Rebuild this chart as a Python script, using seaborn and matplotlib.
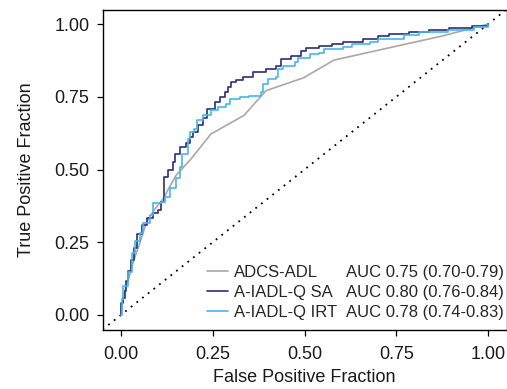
import numpy as np
import pandas as pd
import seaborn as sns
import matplotlib.pyplot as plt
from matplotlib.lines import Line2D

# ROC curve vertices (FPR, TPR)
adcs_fpr = [0, 0.005, 0.02, 0.033, 0.052, 0.07, 0.09, 0.115, 0.15, 0.19, 0.245,
            0.335, 0.395, 0.497, 0.58, 0.875, 1.0]
adcs_tpr = [0, 0.06, 0.12, 0.18, 0.25, 0.32, 0.36, 0.40, 0.48, 0.535, 0.622,
            0.686, 0.771, 0.815, 0.876, 0.959, 1.0]

sa_fpr = [0, 0.0, 0.005, 0.011, 0.015, 0.02, 0.028, 0.035, 0.043, 0.056, 0.07,
          0.088, 0.10, 0.11, 0.118, 0.128, 0.142, 0.147, 0.16, 0.178, 0.1875,
          0.195, 0.21, 0.223, 0.233, 0.255, 0.27, 0.283, 0.291, 0.30, 0.314,
          0.332, 0.36, 0.396, 0.423, 0.436, 0.464, 0.49, 0.505, 0.54, 0.576,
          0.604, 0.658, 0.70, 0.731, 0.785, 0.84, 0.894, 0.957, 1.0]
sa_tpr = [0, 0.04, 0.06, 0.083, 0.117, 0.15, 0.19, 0.23, 0.28, 0.31, 0.335,
          0.35, 0.36, 0.39, 0.475, 0.50, 0.527, 0.555, 0.578, 0.59, 0.612,
          0.63, 0.652, 0.676, 0.709, 0.731, 0.749, 0.766, 0.783, 0.80, 0.806,
          0.817, 0.834, 0.846, 0.857, 0.88, 0.891, 0.908, 0.919, 0.925, 0.93,
          0.939, 0.95, 0.959, 0.967, 0.971, 0.978, 0.985, 0.992, 1.0]

irt_fpr = [0, 0.002, 0.006, 0.02, 0.029, 0.038, 0.052, 0.06, 0.079, 0.088, 0.11,
           0.12, 0.133, 0.151, 0.16, 0.165, 0.183, 0.1875, 0.20, 0.206, 0.224,
           0.246, 0.264, 0.287, 0.296, 0.323, 0.35, 0.382, 0.387, 0.40, 0.423,
           0.427, 0.44, 0.473, 0.482, 0.514, 0.54, 0.554, 0.604, 0.63, 0.677,
           0.70, 0.772, 0.813, 0.89, 0.962, 1.0]
irt_tpr = [0, 0.055, 0.10, 0.146, 0.214, 0.254, 0.282, 0.316, 0.345, 0.385, 0.39,
           0.407, 0.436, 0.47, 0.51, 0.555, 0.606, 0.629, 0.64, 0.669, 0.686,
           0.703, 0.714, 0.726, 0.743, 0.749, 0.754, 0.766, 0.795, 0.81, 0.817,
           0.846, 0.857, 0.868, 0.885, 0.896, 0.902, 0.914, 0.922, 0.93, 0.939,
           0.947, 0.962, 0.974, 0.98, 0.99, 1.0]

names = ['ADCS-ADL', 'A-IADL-Q SA', 'A-IADL-Q IRT']
auc_labels = ['AUC 0.75 (0.70-0.79)', 'AUC 0.80 (0.76-0.84)', 'AUC 0.78 (0.74-0.83)']
colors = ['#A8A8A8', '#2C2E7E', '#45B8EA']
ticks = [0.00, 0.25, 0.50, 0.75, 1.00]

df_adcs = pd.DataFrame({'fpr': adcs_fpr, 'tpr': adcs_tpr})
df_sa = pd.DataFrame({'fpr': sa_fpr, 'tpr': sa_tpr})
df_irt = pd.DataFrame({'fpr': irt_fpr, 'tpr': irt_tpr})

sns.set_theme(style='ticks')
plt.rcParams['font.family'] = ['Liberation Sans', 'DejaVu Sans']

fig = plt.figure(figsize=(5.07, 3.89), dpi=100)
ax = fig.add_axes([102.6 / 507, 59.5 / 389, 403.9 / 507, 320 / 389])

# chance line
ax.axline((0, 0), slope=1, color='black', lw=1.3, linestyle=(0, (1, 3)))

lw = 1.2
sns.lineplot(data=df_adcs, x='fpr', y='tpr', sort=False, estimator=None,
             color=colors[0], lw=lw, ax=ax)
sns.lineplot(data=df_sa, x='fpr', y='tpr', sort=False, estimator=None,
             color=colors[1], lw=lw, drawstyle='steps-post', ax=ax)
sns.lineplot(data=df_irt, x='fpr', y='tpr', sort=False, estimator=None,
             color=colors[2], lw=lw, drawstyle='steps-post', ax=ax)

ax.set_xlim(-0.05, 1.05)
ax.set_ylim(-0.05, 1.05)
ax.set_xticks(ticks)
ax.set_yticks(ticks)
ax.set_xticklabels([f'{t:.2f}' for t in ticks])
ax.set_yticklabels([f'{t:.2f}' for t in ticks])
ax.tick_params(labelsize=13, length=4.5, width=0.9, color='black',
               labelcolor='#1a1a1a')
ax.tick_params(axis='x', pad=7.5)
ax.tick_params(axis='y', pad=5)
ax.set_xlabel('False Positive Fraction', fontsize=13, color='#1a1a1a', labelpad=4.5)
ax.set_ylabel('True Positive Fraction', fontsize=13, color='#1a1a1a', labelpad=14)
for s in ax.spines.values():
    s.set_visible(True)
    s.set_color('black')
    s.set_linewidth(1.0)

# legend: names in first column, AUC text in second
handles = [Line2D([], [], color=c, lw=1.2) for c in colors]
blank = [Line2D([], [], color='none') for _ in colors]
ax.legend(handles + blank, names + auc_labels, ncol=2, frameon=False,
          fontsize=12, handlelength=1.3, handletextpad=0.35,
          columnspacing=-1.15, labelspacing=0.3, borderpad=0,
          loc='lower right', bbox_to_anchor=(512 / 507, 61 / 389),
          bbox_transform=fig.transFigure)

plt.savefig('out.png', dpi=100)
plt.close()
